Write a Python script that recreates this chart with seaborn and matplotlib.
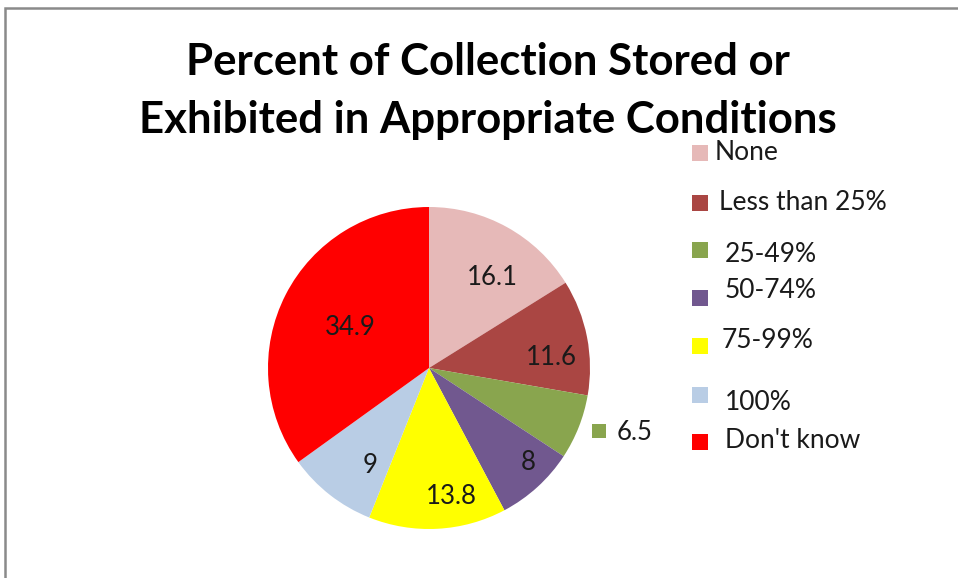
import matplotlib
matplotlib.use("Agg")
import matplotlib.pyplot as plt
import matplotlib.patches as mpatches
import numpy as np
import seaborn as sns

# Survey categories and their share of respondents (%)
categories = ["None", "Less than 25%", "25-49%", "50-74%", "75-99%", "100%", "Don't know"]
values = [16.1, 11.6, 6.5, 8, 13.8, 9, 34.9]
value_labels = ["16.1", "11.6", "6.5", "8", "13.8", "9", "34.9"]
colors = ["#E6B9B8", "#AA4643", "#89A54E", "#71588F", "#FFFF00", "#B9CDE5", "#FF0000"]

sns.set_theme(style="white")
plt.rcParams["font.family"] = ["Lato", "DejaVu Sans"]

W, H = 958, 578
fig = plt.figure(figsize=(W / 100, H / 100), dpi=100)
fig.patch.set_facecolor("white")


def fx(px):
    return px / W


def fy(py):
    return 1 - py / H


# chart frame
fig.patches.append(mpatches.Rectangle((fx(5), fy(590)), fx(980) - fx(5), fy(8) - fy(590),
                                      transform=fig.transFigure, fill=False,
                                      edgecolor="#8a8a8a", linewidth=1.8))

# pie area: centre (429, 368), radius 161 px
cx, cy, r = 429, 368, 161
ax = fig.add_axes([fx(cx - r), fy(cy + r), fx(2 * r), fy(cy - r) - fy(cy + r)])
wedges, _ = ax.pie(values, colors=colors, startangle=90, counterclock=False,
                   radius=1.0, wedgeprops=dict(linewidth=0))
ax.set_xlim(-1, 1)
ax.set_ylim(-1, 1)
ax.axis("off")

# data labels, placed along each wedge's bisector
label_dist = [0.69, 0.76, 1.34, 0.85, 0.81, 0.71, 0.55]
label_shift = [-6, -6, 4, 4, 7, 7, 0]  # degrees
for w, txt, d, sh in zip(wedges, value_labels, label_dist, label_shift):
    ang = np.deg2rad((w.theta1 + w.theta2) / 2 + sh)
    x, y = d * np.cos(ang), d * np.sin(ang)
    ax.text(x, y, txt, ha="center", va="center", fontsize=18.5, color="#1a1a1a",
            clip_on=False)
    if d > 1:
        ax.scatter([x - 0.22], [y + 0.01], marker="s", s=100, color=w.get_facecolor(),
                   clip_on=False, linewidths=0)

# title
fig.text(fx(488), fy(62), "Percent of Collection Stored or", ha="center", va="center",
         fontsize=31.5, fontweight="bold", color="black")
fig.text(fx(488), fy(120), "Exhibited in Appropriate Conditions", ha="center", va="center",
         fontsize=31.5, fontweight="bold", color="black")

# legend keys and entries
key_y = [153, 203, 250, 298, 346, 395, 442]
text_pos = [(715, 153), (719, 203), (725, 255), (725, 290), (722, 340), (725, 403), (725, 440)]
for c, name, ky, (tx, ty) in zip(colors, categories, key_y, text_pos):
    fig.patches.append(mpatches.Rectangle((fx(692), fy(ky + 8)), fx(16), fy(ky - 8) - fy(ky + 8),
                                          transform=fig.transFigure, facecolor=c,
                                          edgecolor="none"))
    fig.text(fx(tx), fy(ty), name, ha="left", va="center", fontsize=19, color="#1a1a1a")

fig.savefig("out.png", dpi=100, facecolor="white")
